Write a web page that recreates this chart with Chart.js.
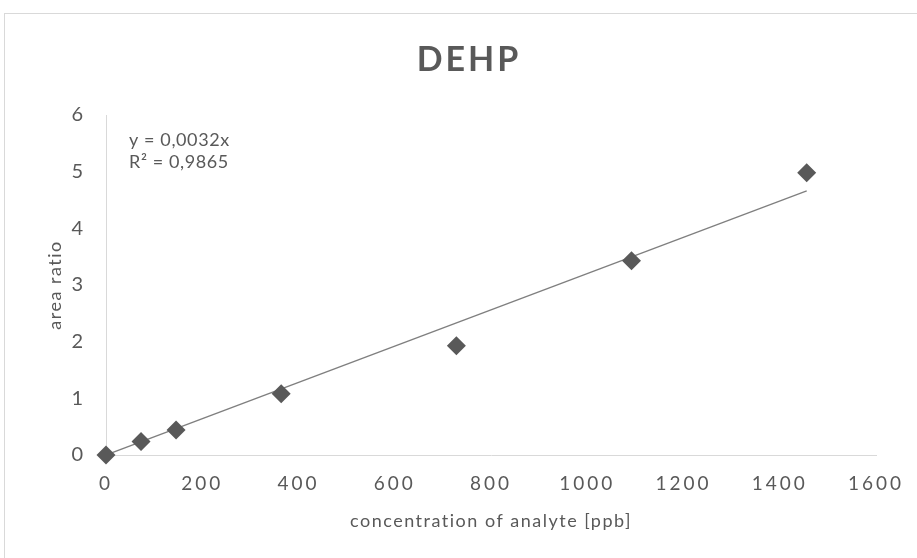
<!DOCTYPE html>
<html lang="en">
  <head>
    <meta charset="UTF-8" />
    <title>DEHP</title>
    <script src="https://cdn.jsdelivr.net/npm/chart.js"></script>
    <style>
      html, body { margin: 0; padding: 0; background: #fff; overflow: hidden; }
      #frame {
        position: absolute; left: 4px; top: 13px;
        width: 1000px; height: 1000px;
        border: 1px solid #d9d9d9;
      }
      #wrap { position: absolute; left: 0; top: 0; width: 917px; height: 558px; }
    </style>
  </head>
  <body>
    <div id="frame"></div>
    <div id="wrap"><canvas id="dehp-chart"></canvas></div>

    <script>
      // calibration points
      const concentration = [0, 72.8, 145.6, 364, 728, 1092, 1456];
      const areaRatio = [0, 0.24, 0.44, 1.08, 1.93, 3.43, 4.98];

      // linear trendline through origin (y = 0,0032x)
      const trendX = [0, 1456];
      const trendY = [0, 4.66];

      const xTicks = [0, 200, 400, 600, 800, 1000, 1200, 1400, 1600];
      const yTicks = [0, 1, 2, 3, 4, 5, 6];
      const chartTitle = "DEHP";
      const equationLines = ["y = 0,0032x", "R\u00b2 = 0,9865"];

      const grey = "#595959";
      const font = "Lato";

      // Excel spreads its text a bit, chart.js has no option for it,
      // so wrap the scale drawing and set letterSpacing on the context
      const spacing = {
        id: "spacing",
        beforeDraw(chart) {
          const ctx = chart.ctx;
          Object.values(chart.scales).forEach((sc) => {
            if (sc._spaced) return;
            const labels = sc.drawLabels.bind(sc);
            const title = sc.drawTitle.bind(sc);
            sc.drawLabels = (area) => {
              ctx.letterSpacing = "3px";
              labels(area);
              ctx.letterSpacing = "0px";
            };
            sc.drawTitle = () => {
              ctx.letterSpacing = "1.5px";
              title();
              ctx.letterSpacing = "0px";
            };
            sc._spaced = true;
          });
        },
      };

      // chart title and trendline equation
      const texts = {
        id: "texts",
        afterDatasetsDraw(chart) {
          const ctx = chart.ctx;
          const area = chart.chartArea;
          ctx.save();
          ctx.fillStyle = grey;
          ctx.textBaseline = "middle";

          ctx.font = "bold 34px " + font;
          ctx.letterSpacing = "3px";
          ctx.textAlign = "center";
          ctx.fillText(chartTitle, 469, 60);

          ctx.font = "18px " + font;
          ctx.letterSpacing = "0.6px";
          ctx.textAlign = "left";
          equationLines.forEach((line, i) => {
            ctx.fillText(line, area.left + 23, 140 + i * 22);
          });
          ctx.letterSpacing = "0px";
          ctx.restore();
        },
      };

      const ctx = document.getElementById("dehp-chart").getContext("2d");
      new Chart(ctx, {
        type: "scatter",
        data: {
          datasets: [
            {
              label: "DEHP",
              data: concentration.map((x, i) => ({ x: x, y: areaRatio[i] })),
              pointStyle: "rectRot",
              pointRadius: 9.5,
              pointHoverRadius: 9.5,
              backgroundColor: grey,
              borderColor: grey,
              borderWidth: 0,
              clip: false,
              order: 1,
            },
            {
              label: "trend",
              type: "line",
              data: trendX.map((x, i) => ({ x: x, y: trendY[i] })),
              borderColor: "#7f7f7f",
              borderWidth: 1.3,
              pointRadius: 0,
              fill: false,
              order: 2,
            },
          ],
        },
        options: {
          responsive: true,
          maintainAspectRatio: false,
          animation: false,
          layout: { padding: { left: 10, right: 41, top: 115, bottom: 0 } },
          plugins: {
            legend: { display: false },
            tooltip: { enabled: false },
            title: { display: false },
          },
          scales: {
            x: {
              type: "linear",
              min: 0,
              max: 1600,
              afterBuildTicks: (s) => { s.ticks = xTicks.map((v) => ({ value: v })); },
              afterFit: (s) => { s.height = 103; },
              grid: { display: false, drawTicks: false },
              border: { display: true, color: "#d9d9d9", width: 1 },
              ticks: {
                color: grey,
                padding: 17,
                font: { family: font, size: 19 },
                callback: (v) => String(v),
              },
              title: {
                display: true,
                text: "concentration of analyte [ppb]",
                color: grey,
                font: { family: font, size: 18 },
                padding: { top: 0, bottom: 26 },
              },
            },
            y: {
              type: "linear",
              min: 0,
              max: 6,
              afterBuildTicks: (s) => { s.ticks = yTicks.map((v) => ({ value: v })); },
              afterFit: (s) => { s.width = 96; },
              grid: { display: false, drawTicks: false },
              border: { display: true, color: "#d9d9d9", width: 1 },
              ticks: {
                color: grey,
                padding: 20,
                font: { family: font, size: 20 },
                callback: (v) => String(v),
              },
              title: {
                display: true,
                text: "area ratio",
                color: grey,
                font: { family: font, size: 18 },
                padding: { top: 34, bottom: 0 },
              },
            },
          },
        },
        plugins: [spacing, texts],
      });
    </script>
  </body>
</html>
